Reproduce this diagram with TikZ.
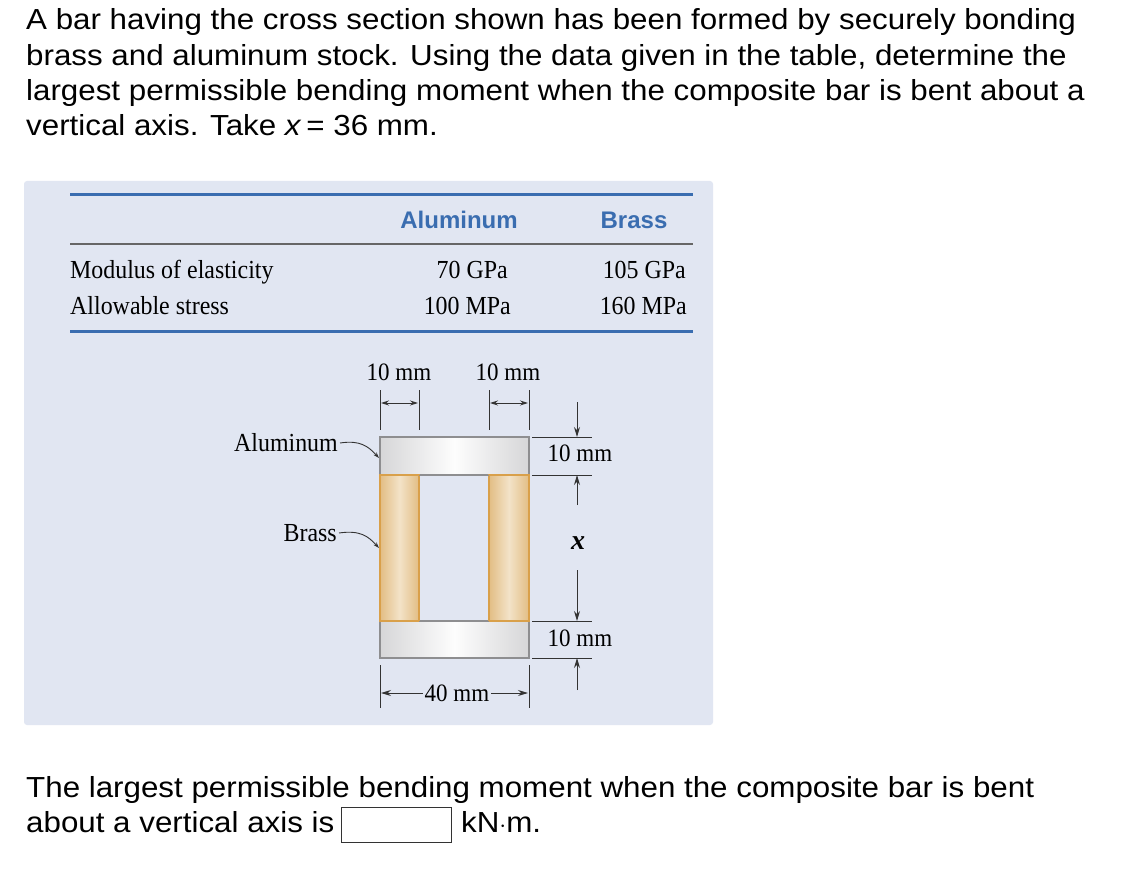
\documentclass[tikz,border=0pt]{standalone}
\usepackage{fontspec}
\setmainfont{Liberation Serif}
\setsansfont{Liberation Sans}
\newfontfamily\qfont[FakeStretch=1.08]{Liberation Sans}
\newfontfamily\tfont[FakeStretch=0.92]{Liberation Serif}
\usetikzlibrary{arrows.meta}
\definecolor{panel}{HTML}{E1E6F2}
\definecolor{rulebl}{HTML}{3A6DB0}
\definecolor{alfill}{HTML}{D6D6D8}
\definecolor{aledge}{HTML}{8E8E90}
\definecolor{brdark}{HTML}{E2BD84}
\definecolor{brlight}{HTML}{F3E3C8}
\definecolor{bredge}{HTML}{D9A04A}
\begin{document}
\begin{tikzpicture}[x=1pt,y=-1pt,
  q/.style={font=\qfont\fontsize{29}{30}\selectfont,anchor=base west,inner sep=0},
  tb/.style={font=\tfont\fontsize{26}{28}\selectfont,anchor=base,inner sep=0},
  hd/.style={font=\sffamily\bfseries\fontsize{24}{26}\selectfont,text=rulebl,anchor=base,inner sep=0},
  dim/.style={font=\tfont\fontsize{25}{26}\selectfont,inner sep=1pt},
  ext/.style={line width=1pt,black!80},
  arr/.style={-{Stealth[length=10pt,width=6pt]},line width=1pt,black!80},
  darr/.style={{Stealth[length=8pt,width=5pt]}-{Stealth[length=8pt,width=5pt]},line width=0.9pt,black!80},
  lead/.style={line width=0.9pt,black!80,-{Stealth[length=6pt,width=4pt]}}]
\useasboundingbox (0,0) rectangle (1124,874);
\fill[white] (0,0) rectangle (1124,874);
% question
\node[q] (l1) at (26,30) {A bar having the cross section shown has been formed by securely bonding};
\node[q] (l2) at (26,66) {brass and aluminum stock. Using the data given in the table, determine the};
\node[q] (l3) at (26,101) {largest permissible bending moment when the composite bar is bent about a};
\node[q] (l4) at (26,136) {vertical axis. Take \textit{x}\,= 36 mm.};
% panel
\fill[panel, rounded corners=3pt] (24,181) rectangle (713,725);
\draw[rulebl,line width=3pt] (70,195) -- (693,195);
\draw[black!60,line width=1.5pt] (70,244) -- (693,244);
\draw[rulebl,line width=3pt] (70,332) -- (693,332);
\node[hd] (hA) at (459,229) {Aluminum};
\node[hd] (hB) at (634,229) {Brass};
\node[tb,anchor=base west] (r1) at (70,279) {Modulus of elasticity};
\node[tb,anchor=base west] (r2) at (70,315) {Allowable stress};
\node[tb,anchor=base east] (a1) at (508,279) {70 GPa};
\node[tb,anchor=base east] (a2) at (511,315) {100 MPa};
\node[tb,anchor=base east] (b1) at (686,279) {105 GPa};
\node[tb,anchor=base east] (b2) at (687,315) {160 MPa};
% section
\shade[left color=alfill, right color=alfill, middle color=white!95!alfill] (380,437) rectangle (529,475);
\draw[aledge,line width=1.2pt] (380,437) rectangle (529,475);
\shade[left color=alfill, right color=alfill, middle color=white!95!alfill] (380,621) rectangle (529,658);
\draw[aledge,line width=1.2pt] (380,621) rectangle (529,658);
\shade[left color=brdark, right color=brdark, middle color=brlight] (380,475) rectangle (419,621);
\draw[bredge,line width=1.2pt] (380,475) rectangle (419,621);
\shade[left color=brdark, right color=brdark, middle color=brlight] (489,475) rectangle (529,621);
\draw[bredge,line width=1.2pt] (489,475) rectangle (529,621);
\draw[aledge,line width=1pt] (419,475) -- (489,475) (419,621) -- (489,621);
% top dims
\coordinate (t1) at (380,390); \coordinate (t2) at (419,390);
\coordinate (t3) at (489,390); \coordinate (t4) at (529,390);
\draw[ext] (t1) -- ++(0,40) (t2) -- ++(0,40) (t3) -- ++(0,40) (t4) -- ++(0,40);
\coordinate (a1l) at (381,403); \coordinate (a1r) at (418,403);
\coordinate (a2l) at (490,403); \coordinate (a2r) at (528,403);
\draw[darr] (a1l) -- (a1r);
\draw[darr] (a2l) -- (a2r);
\node[dim] (d1) at (399,372) {10 mm};
\node[dim] (d2) at (508,372) {10 mm};
% right dims
\draw[ext] (532,437) -- (592,437) (532,475) -- (592,475) (532,621) -- (592,621) (532,658) -- (592,658);
\coordinate (v0) at (577,402); \coordinate (v1) at (577,437);
\coordinate (v2) at (577,475); \coordinate (v3) at (577,621);
\coordinate (v4) at (577,658); \coordinate (v5) at (577,690);
\draw[arr] (v0) -- (v1);
\draw[arr] (577,505) -- (v2);
\draw[arr] (577,570) -- (v3);
\draw[arr] (v5) -- (v4);
\node[dim] (d3) at (580,453) {10 mm};
\node[font=\bfseries\itshape\fontsize{28}{30}\selectfont,inner sep=0] (dx) at (578,543) {x};
\node[dim] (d4) at (580,638) {10 mm};
% bottom dim
\coordinate (b1c) at (380,665); \coordinate (b2c) at (529,665);
\draw[ext] (b1c) -- ++(0,43) (b2c) -- ++(0,43);
\node[dim,inner sep=2pt] (d5) at (457,693) {40 mm};
\draw[arr] (d5.west) -- (381,693);
\draw[arr] (d5.east) -- (528,693);
% leaders
\node[tb,anchor=east] (la) at (338,443) {Aluminum};
\node[tb,anchor=east] (lb) at (337,533) {Brass};
\draw[lead] ([xshift=2pt]la.east) .. controls (360,440) and (368,446) .. (379,458);
\draw[lead] ([xshift=2pt]lb.east) .. controls (360,530) and (368,536) .. (379,548);
% answer
\node[q] (m1) at (26,797) {The largest permissible bending moment when the composite bar is bent};
\node[q] (m2) at (26,832) {about a vertical axis is};
\node[draw=black!80,line width=1pt,minimum width=110pt,minimum height=35pt,inner sep=0] (box) at (396,825) {};
\node[q] (m3) at (461,832) {kN$\cdot$m.};
\end{tikzpicture}
\end{document}
